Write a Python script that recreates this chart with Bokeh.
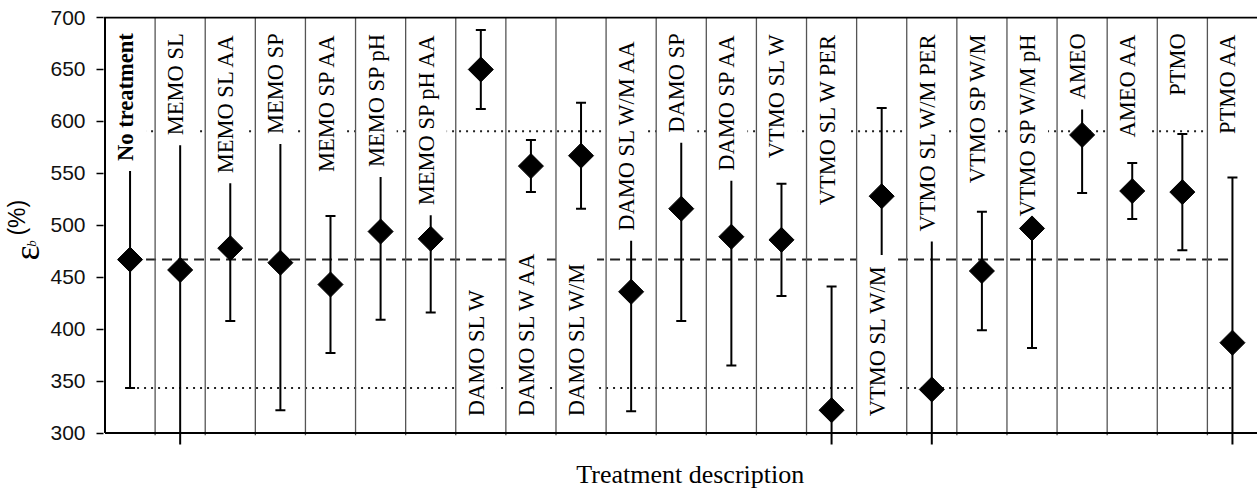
import numpy as np
from bokeh.plotting import figure
from bokeh.models import Range1d, FixedTicker, LinearAxis, ColumnDataSource
from bokeh.core.properties import value
from bokeh.embed import file_html
from bokeh.resources import INLINE

# ---------------- data ----------------
treatments = ["No treatment", "MEMO SL", "MEMO SL AA", "MEMO SP", "MEMO SP AA",
              "MEMO SP pH", "MEMO SP pH AA", "DAMO SL W", "DAMO SL W AA", "DAMO SL W/M",
              "DAMO SL W/M  AA", "DAMO SP", "DAMO SP AA", "VTMO SL W", "VTMO SL W PER",
              "VTMO SL W/M", "VTMO SL W/M PER", "VTMO SP W/M", "VTMO SP W/M pH",
              "AMEO", "AMEO AA", "PTMO", "PTMO AA"]
means = [467, 457, 478, 464, 443, 494, 487, 650, 557, 567, 436, 516, 489,
         486, 322, 528, 342, 456, 497, 587, 533, 532, 387]
std_dev = [123.5, 175, 70, 142, 66, 85, 71, 38, 25, 51, 115, 108, 124,
           54, 119, 85, 150, 57, 115, 56, 27, 56, 159]
label_side = (["top"] * 7 + ["bottom"] * 3 + ["top"] * 5 + ["bottom"] + ["top"] * 7)
y_ticks = [300, 350, 400, 450, 500, 550, 600, 650, 700]

n = len(treatments)
xs = [i + 0.5 for i in range(n)]
upper = [m + s for m, s in zip(means, std_dev)]
lower = [m - s for m, s in zip(means, std_dev)]
ref_mean = means[0]
ref_hi = means[0] + std_dev[0]
ref_lo = means[0] - std_dev[0]

NB = "\u00a0"

# ---------------- figure ----------------
p = figure(width=1257, height=491, output_backend="svg", toolbar_location=None,
           x_range=Range1d(-0.03, n), y_range=Range1d(289, 701),
           min_border_left=96, min_border_right=0, min_border_top=16, min_border_bottom=44)
p.outline_line_color = None
p.xgrid.visible = False
p.ygrid.visible = False
p.background_fill_color = "white"
p.border_fill_color = "white"

ya = p.yaxis[0]
ya.ticker = FixedTicker(ticks=y_ticks)
ya.axis_line_color = None
ya.major_tick_out = 7
ya.major_tick_in = 0
ya.major_tick_line_width = 1.5
ya.major_tick_line_color = "black"
ya.minor_tick_line_color = None
ya.major_label_standoff = 11
ya.major_label_text_font = "Liberation Sans"
ya.major_label_text_font_size = "21px"
ya.major_label_text_color = "#111111"

xa = p.xaxis[0]
xa.ticker = FixedTicker(ticks=[])
xa.axis_line_color = None
xa.major_tick_line_color = None
xa.minor_tick_line_color = None
xa.major_tick_out = 0
xa.major_label_standoff = 0
xa.axis_label = NB * 3 + "Treatment description"
xa.axis_label_standoff = 15
xa.axis_label_text_font = "Liberation Serif"
xa.axis_label_text_font_size = "26px"
xa.axis_label_text_font_style = "normal"
xa.axis_label_text_color = "black"


def label_axis(text, font, size, style, standoff):
    ax = LinearAxis(ticker=FixedTicker(ticks=[]),
                    axis_label=text, axis_label_text_font=font,
                    axis_label_text_font_size=size, axis_label_text_font_style=style,
                    axis_label_text_color="black", axis_label_standoff=standoff,
                    axis_line_color=None, major_tick_line_color=None,
                    minor_tick_line_color=None, major_tick_out=0, major_tick_in=0,
                    major_label_standoff=0)
    p.add_layout(ax, "left")


# y title: epsilon_b (%)   (pieces stacked in the left panel)
label_axis("b" + NB * 8, "Liberation Serif", "13px", "italic", 9)
label_axis("ε" + NB * 5, "Liberation Serif", "36px", "normal", -26)
label_axis(NB * 4 + "(%)", "Liberation Sans", "23px", "normal", -26)

# reference lines (untreated mean and +/- one std)
p.segment(x0=[xs[0]], y0=[ref_mean], x1=[xs[-1]], y1=[ref_mean],
          line_color="#222222", line_width=2, line_dash="10 6")
p.segment(x0=[xs[0], xs[0]], y0=[ref_hi, ref_lo], x1=[xs[-1], xs[-1]], y1=[ref_hi, ref_lo],
          line_color="#222222", line_width=2, line_dash="2 5")

# whiskers and caps
p.segment(x0=xs, y0=lower, x1=xs, y1=upper, line_color="black", line_width=2)
p.scatter(xs, upper, marker="dash", size=10, line_width=2, line_color="black")
p.scatter(xs, lower, marker="dash", size=10, line_width=2, line_color="black")

# labels inside the columns
dx = -4.5 / 50.4
top_i = [i for i, s in enumerate(label_side) if s == "top"]
bot_i = [i for i, s in enumerate(label_side) if s == "bottom"]
src_top = ColumnDataSource(dict(
    x=[xs[i] + dx for i in top_i], y=[694.5] * len(top_i),
    text=[treatments[i] for i in top_i],
    style=["bold" if i == 0 else "normal" for i in top_i]))
src_bot = ColumnDataSource(dict(
    x=[xs[i] + dx for i in bot_i], y=[306.5] * len(bot_i),
    text=[treatments[i] for i in bot_i],
    style=["normal" for i in bot_i]))
common = dict(angle=np.pi / 2, text_baseline="middle", text_color="black",
              text_font=value("Liberation Serif"), text_font_size="22.5px",
              text_font_style="style", background_fill_color="white",
              padding=(10, 8))
p.text(x="x", y="y", text="text", source=src_top, text_align="right", **common)
p.text(x="x", y="y", text="text", source=src_bot, text_align="left", **common)

# column separators
seps = list(range(1, n))
p.segment(x0=seps, y0=[298] * len(seps), x1=seps, y1=[700] * len(seps),
          line_color="#555555", line_width=1.3)

# diamonds
p.scatter(xs, means, marker="square", size=17.7, angle=np.pi / 4,
          fill_color="black", line_color="black")

# frame lines
p.segment(x0=[0], y0=[300], x1=[0], y1=[700], line_color="black", line_width=2)
p.segment(x0=[0, -0.03], y0=[300, 700], x1=[n, n], y1=[300, 700], line_color="black", line_width=2)

open("out.html", "w").write(file_html(p, INLINE))
